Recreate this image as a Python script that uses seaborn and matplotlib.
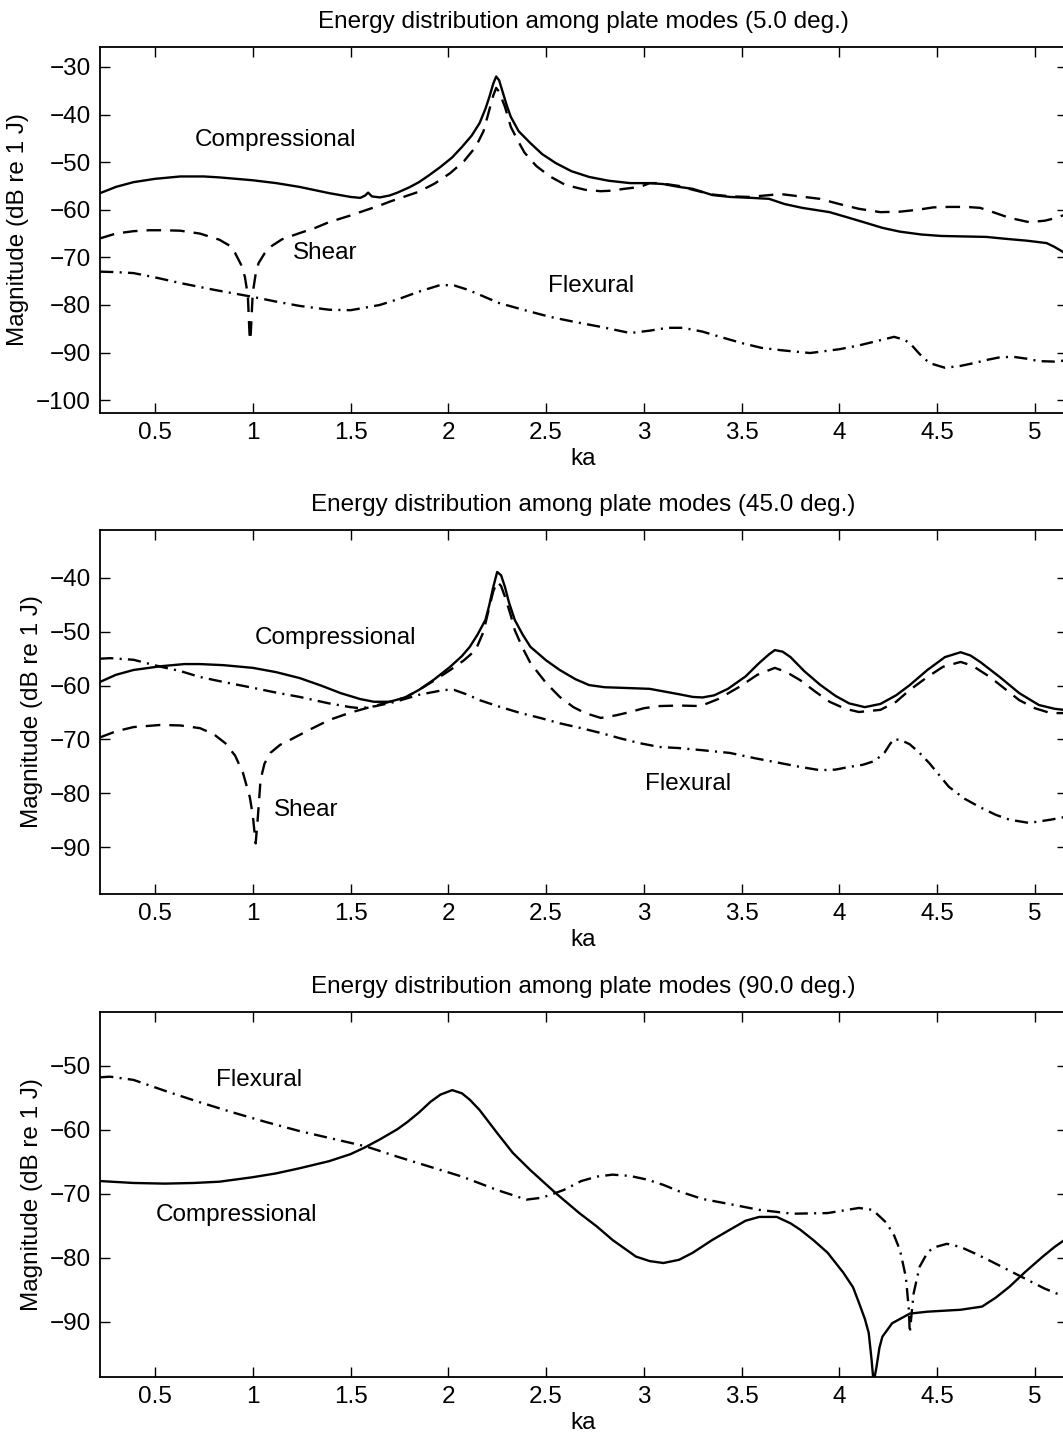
import numpy as np
import pandas as pd
import matplotlib
matplotlib.use("Agg")
import matplotlib.pyplot as plt
import seaborn as sns

# ---------------- data ----------------
# Panel 1: 5.0 deg
p1_comp_ka = [0.22, 0.30, 0.39, 0.50, 0.63, 0.75, 0.83, 1.00, 1.12, 1.24, 1.39, 1.50, 1.55, 1.575, 1.59, 1.61,
              1.65, 1.70, 1.74, 1.80, 1.85, 1.90, 1.96, 2.02, 2.07, 2.12, 2.16, 2.19, 2.21, 2.23, 2.245, 2.26,
              2.28, 2.30, 2.32, 2.36, 2.42, 2.48, 2.55, 2.63, 2.72, 2.82, 2.93, 3.03, 3.10, 3.18, 3.25, 3.35,
              3.44, 3.55, 3.64, 3.72, 3.81, 3.95, 4.05, 4.14, 4.22, 4.31, 4.42, 4.52, 4.63, 4.75, 4.85, 4.96,
              5.06, 5.10, 5.17]
p1_comp_db = [-56.5, -55.2, -54.2, -53.5, -53.0, -53.0, -53.2, -53.8, -54.4, -55.2, -56.5, -57.3, -57.5, -57.0, -56.4, -57.2,
              -57.4, -57.0, -56.4, -55.3, -54.2, -52.8, -51.0, -49.0, -46.8, -44.4, -41.8, -38.8, -36.3, -33.5, -32.0, -32.8,
              -35.5, -38.2, -40.5, -43.5, -46.0, -48.3, -50.2, -51.9, -53.1, -53.9, -54.4, -54.4, -54.6, -55.2, -55.6, -56.9,
              -57.3, -57.5, -57.7, -58.8, -59.6, -60.5, -61.7, -62.8, -63.8, -64.6, -65.2, -65.5, -65.6, -65.7, -66.1, -66.5,
              -67.0, -67.8, -69.5]
p1_shear_ka = [0.22, 0.30, 0.39, 0.47, 0.55, 0.63, 0.73, 0.83, 0.88, 0.91, 0.94, 0.96, 0.975, 0.985, 0.99, 1.00,
               1.015, 1.03, 1.06, 1.09, 1.15, 1.24, 1.32, 1.39, 1.50, 1.57, 1.65, 1.70, 1.75, 1.85, 1.93, 2.01,
               2.08, 2.14, 2.18, 2.21, 2.23, 2.245, 2.26, 2.29, 2.32, 2.36, 2.39, 2.45, 2.52, 2.60, 2.70, 2.78,
               2.83, 2.90, 2.98, 3.03, 3.08, 3.18, 3.25, 3.35, 3.45, 3.54, 3.62, 3.70, 3.80, 3.90, 4.00, 4.10,
               4.21, 4.31, 4.40, 4.48, 4.56, 4.65, 4.72, 4.80, 4.87, 4.97, 5.05, 5.10, 5.17]
p1_shear_db = [-66.0, -65.0, -64.5, -64.3, -64.3, -64.4, -65.0, -66.3, -67.5, -69.1, -71.5, -74.1, -78.0, -87.4, -86.0, -77.5,
               -73.5, -71.2, -69.2, -67.8, -66.2, -64.9, -63.8, -62.6, -61.2, -60.2, -59.1, -58.3, -57.6, -56.2, -54.5, -52.3,
               -49.8, -46.8, -43.5, -39.0, -36.0, -34.4, -35.2, -38.4, -42.6, -45.8, -48.0, -50.8, -53.0, -54.8, -55.8, -56.1,
               -56.0, -55.6, -55.2, -54.4, -54.4, -55.0, -55.8, -56.8, -57.2, -57.3, -57.0, -56.7, -57.2, -57.7, -58.8, -59.8,
               -60.5, -60.4, -60.0, -59.5, -59.4, -59.4, -59.6, -60.7, -61.7, -62.6, -62.3, -61.8, -60.8]
p1_flex_ka = [0.22, 0.30, 0.39, 0.50, 0.63, 0.80, 1.00, 1.12, 1.24, 1.39, 1.50, 1.57, 1.65, 1.75, 1.85, 1.96,
              2.03, 2.10, 2.26, 2.40, 2.52, 2.65, 2.78, 2.93, 3.03, 3.12, 3.20, 3.30, 3.39, 3.50, 3.60, 3.70,
              3.85, 4.00, 4.10, 4.21, 4.28, 4.33, 4.36, 4.41, 4.46, 4.54, 4.62, 4.69, 4.76, 4.82, 4.89, 4.96,
              5.02, 5.10, 5.17]
p1_flex_db = [-73.0, -73.1, -73.3, -74.2, -75.4, -76.8, -78.3, -79.3, -80.2, -81.0, -81.1, -80.6, -80.0, -78.7, -77.2, -75.8,
              -75.9, -76.8, -79.6, -81.2, -82.5, -83.6, -84.6, -85.9, -85.4, -84.8, -84.8, -85.6, -86.7, -88.0, -89.0, -89.5,
              -90.1, -89.3, -88.5, -87.4, -86.7, -87.3, -88.0, -90.3, -92.2, -93.2, -92.8, -92.2, -91.5, -91.0, -90.9, -91.3,
              -91.8, -91.9, -91.6]

# Panel 2: 45.0 deg
p2_comp_ka = [0.22, 0.30, 0.39, 0.53, 0.65, 0.73, 0.85, 1.00, 1.12, 1.24, 1.35, 1.45, 1.55, 1.62, 1.70, 1.78,
              1.85, 1.93, 2.01, 2.07, 2.11, 2.15, 2.19, 2.21, 2.23, 2.25, 2.27, 2.29, 2.31, 2.34, 2.38, 2.42,
              2.50, 2.57, 2.65, 2.72, 2.80, 2.88, 3.03, 3.12, 3.18, 3.25, 3.30, 3.36, 3.43, 3.52, 3.59, 3.64,
              3.67, 3.71, 3.75, 3.82, 3.90, 3.98, 4.05, 4.13, 4.21, 4.29, 4.36, 4.45, 4.54, 4.62, 4.67, 4.72,
              4.82, 4.92, 5.02, 5.10, 5.17]
p2_comp_db = [-59.3, -58.0, -57.1, -56.4, -56.0, -56.0, -56.2, -56.7, -57.5, -58.6, -60.0, -61.4, -62.5, -63.0, -63.0, -62.2,
              -60.8, -58.8, -56.5, -54.5, -52.8, -50.5, -47.8, -45.0, -41.7, -38.9, -39.5, -41.7, -44.5, -47.8, -50.5, -52.8,
              -55.3, -57.1, -58.8, -59.9, -60.3, -60.4, -60.6, -61.2, -61.6, -62.1, -62.2, -61.8, -60.6, -58.3, -55.8, -54.2,
              -53.4, -53.7, -54.7, -57.3, -59.8, -61.9, -63.3, -64.0, -63.4, -61.8, -59.9, -57.1, -54.7, -53.8, -54.4, -55.6,
              -58.4, -61.4, -63.6, -64.3, -64.6]
p2_shear_ka = [0.22, 0.30, 0.39, 0.53, 0.63, 0.73, 0.80, 0.86, 0.91, 0.95, 0.985, 1.00, 1.015, 1.025, 1.04, 1.06,
               1.09, 1.14, 1.19, 1.29, 1.39, 1.50, 1.60, 1.70, 1.78, 1.85, 1.93, 2.01, 2.08, 2.14, 2.18, 2.21,
               2.23, 2.25, 2.27, 2.29, 2.32, 2.34, 2.38, 2.42, 2.50, 2.57, 2.64, 2.70, 2.78, 2.86, 2.93, 3.00,
               3.08, 3.18, 3.29, 3.38, 3.49, 3.58, 3.67, 3.73, 3.80, 3.88, 3.95, 4.03, 4.10, 4.21, 4.29, 4.36,
               4.45, 4.53, 4.62, 4.68, 4.77, 4.85, 4.92, 5.00, 5.08, 5.17]
p2_shear_db = [-69.6, -68.5, -67.7, -67.3, -67.4, -67.9, -69.0, -70.7, -73.0, -76.2, -80.7, -84.0, -89.3, -85.0, -77.5, -74.5,
               -72.5, -71.0, -70.1, -68.2, -66.4, -65.0, -64.0, -63.0, -62.2, -60.8, -59.0, -57.1, -55.3, -53.4, -50.0, -45.4,
               -42.5, -40.7, -41.5, -43.5, -47.0, -49.7, -53.0, -55.8, -59.5, -62.1, -64.0, -65.1, -66.0, -65.5, -64.9, -64.2,
               -63.8, -63.7, -63.8, -62.5, -60.2, -58.0, -56.7, -57.5, -59.0, -61.2, -63.0, -64.3, -64.9, -64.5, -63.0, -60.8,
               -58.4, -56.5, -55.6, -56.3, -58.4, -60.7, -62.7, -64.2, -65.1, -65.1]
p2_flex_ka = [0.22, 0.27, 0.39, 0.53, 0.63, 0.73, 0.86, 1.00, 1.12, 1.24, 1.39, 1.50, 1.55, 1.63, 1.73, 1.85,
              1.98, 2.03, 2.10, 2.16, 2.26, 2.37, 2.47, 2.57, 2.68, 2.78, 2.88, 2.98, 3.08, 3.18, 3.30, 3.44,
              3.57, 3.70, 3.80, 3.90, 3.98, 4.05, 4.12, 4.18, 4.23, 4.26, 4.28, 4.32, 4.36, 4.41, 4.46, 4.51,
              4.56, 4.64, 4.72, 4.80, 4.87, 4.97, 5.08, 5.17]
p2_flex_db = [-55.0, -54.9, -55.2, -56.5, -57.3, -58.4, -59.4, -60.4, -61.3, -62.1, -63.3, -64.0, -64.2, -63.8, -63.0, -61.7,
              -60.8, -60.8, -61.7, -62.7, -63.9, -65.1, -66.0, -67.0, -67.9, -68.8, -69.8, -70.7, -71.4, -71.6, -72.0, -72.5,
              -73.5, -74.4, -75.1, -75.7, -75.6, -75.1, -74.7, -74.0, -72.5, -70.8, -69.9, -70.2, -70.9, -72.5, -74.4, -76.6,
              -78.8, -81.0, -82.6, -84.0, -84.9, -85.5, -84.9, -84.3]

# Panel 3: 90.0 deg
p3_comp_ka = [0.22, 0.39, 0.55, 0.70, 0.83, 1.00, 1.12, 1.24, 1.39, 1.50, 1.57, 1.65, 1.74, 1.79, 1.85, 1.91,
              1.96, 2.02, 2.07, 2.11, 2.16, 2.25, 2.33, 2.42, 2.55, 2.67, 2.76, 2.84, 2.96, 3.03, 3.10, 3.18,
              3.25, 3.35, 3.44, 3.52, 3.59, 3.68, 3.75, 3.80, 3.87, 3.94, 4.02, 4.07, 4.10, 4.13, 4.15, 4.165,
              4.175, 4.19, 4.205, 4.22, 4.27, 4.36, 4.45, 4.62, 4.73, 4.80, 4.87, 4.95, 5.04, 5.10, 5.17]
p3_comp_db = [-68.0, -68.3, -68.4, -68.3, -68.1, -67.4, -66.8, -66.0, -64.9, -63.8, -62.8, -61.5, -59.9, -58.8, -57.3, -55.6,
              -54.5, -53.8, -54.3, -55.3, -56.9, -60.5, -63.6, -66.3, -69.9, -73.0, -75.1, -77.2, -79.8, -80.5, -80.8, -80.3,
              -79.2, -77.2, -75.6, -74.2, -73.6, -73.6, -74.6, -75.6, -77.3, -79.2, -82.3, -84.6, -87.0, -89.5, -91.7, -96.0,
              -99.5, -97.0, -94.0, -92.3, -90.2, -88.7, -88.4, -88.1, -87.6, -86.2, -84.5, -82.2, -79.8, -78.3, -76.8]
p3_flex_ka = [0.22, 0.27, 0.39, 0.56, 0.73, 0.90, 1.07, 1.24, 1.41, 1.58, 1.74, 1.91, 2.07, 2.25, 2.40, 2.48,
              2.59, 2.68, 2.76, 2.84, 2.93, 3.02, 3.10, 3.18, 3.30, 3.44, 3.59, 3.76, 3.94, 4.10, 4.17, 4.24,
              4.28, 4.31, 4.34, 4.355, 4.36, 4.37, 4.38, 4.41, 4.45, 4.48, 4.55, 4.62, 4.70, 4.78, 4.87, 4.96,
              5.05, 5.17]
p3_flex_db = [-51.8, -51.7, -52.2, -54.0, -55.7, -57.3, -58.8, -60.2, -61.4, -62.6, -64.2, -65.8, -67.3, -69.4, -70.9, -70.6,
              -69.4, -68.0, -67.3, -67.0, -67.2, -67.8, -68.6, -69.6, -70.8, -71.6, -72.5, -73.1, -73.0, -72.2, -72.5, -74.5,
              -76.5, -78.8, -83.0, -88.0, -91.7, -88.5, -85.5, -81.4, -79.2, -78.4, -77.8, -78.3, -79.4, -80.6, -82.0, -83.4,
              -84.8, -86.3]

angles = ["5.0", "45.0", "90.0"]
xticks = [0.5, 1, 1.5, 2, 2.5, 3, 3.5, 4, 4.5, 5]
xtick_labels = ["0.5", "1", "1.5", "2", "2.5", "3", "3.5", "4", "4.5", "5"]
yticks = [list(range(-100, -29, 10)), list(range(-90, -39, 10)), list(range(-90, -49, 10))]
ylims = [(-102.7, -25.8), (-98.7, -31.1), (-98.6, -41.6)]
xlim = (0.219, 5.164)

# annotation labels: (text, ka, dB)
labels = [
    [("Compressional", 0.704, -45.3), ("Shear", 1.206, -69.1), ("Flexural", 2.509, -76.0)],
    [("Compressional", 1.011, -51.2), ("Shear", 1.108, -83.1), ("Flexural", 3.005, -78.3)],
    [("Compressional", 0.505, -73.3), ("Flexural", 0.812, -52.2)],
]

panels = [
    {"Compressional": (p1_comp_ka, p1_comp_db), "Shear": (p1_shear_ka, p1_shear_db), "Flexural": (p1_flex_ka, p1_flex_db)},
    {"Compressional": (p2_comp_ka, p2_comp_db), "Shear": (p2_shear_ka, p2_shear_db), "Flexural": (p2_flex_ka, p2_flex_db)},
    {"Compressional": (p3_comp_ka, p3_comp_db), "Flexural": (p3_flex_ka, p3_flex_db)},
]

# ---------------- style ----------------
sns.set_theme(style="ticks")
plt.rcParams["font.family"] = ["Liberation Sans", "DejaVu Sans"]
plt.rcParams["lines.scale_dashes"] = False
plt.rcParams["text.color"] = "black"
plt.rcParams["axes.labelcolor"] = "black"
plt.rcParams["axes.edgecolor"] = "black"
plt.rcParams["xtick.color"] = "black"
plt.rcParams["ytick.color"] = "black"
FS = 17.5

dash_map = {"Compressional": "", "Shear": (10.5, 6.5), "Flexural": (9.5, 4.5, 1.5, 4.5)}

W, H = 1063, 1441
fig = plt.figure(figsize=(W / 100, H / 100), dpi=100)
fig.patch.set_facecolor("white")

left_px, right_px = 100, 1067
boxes = [(47, 413), (530, 894), (1012, 1377)]

for i, (top_px, bot_px) in enumerate(boxes):
    ax = fig.add_axes([left_px / W, 1 - bot_px / H, (right_px - left_px) / W, (bot_px - top_px) / H])
    ax.set_facecolor("white")
    frames = []
    for mode, (xs, ys) in panels[i].items():
        frames.append(pd.DataFrame({"ka": xs, "dB": ys, "mode": mode}))
    df = pd.concat(frames, ignore_index=True)
    order = list(panels[i].keys())
    sns.lineplot(data=df, x="ka", y="dB", style="mode", style_order=order,
                 dashes={m: dash_map[m] for m in order}, color="black",
                 linewidth=1.7, estimator=None, sort=True, legend=False, ax=ax)
    ax.set_xlim(*xlim)
    ax.set_ylim(*ylims[i])
    ax.set_xticks(xticks)
    ax.set_xticklabels(xtick_labels)
    ax.set_yticks(yticks[i])
    ax.tick_params(direction="in", length=7.5, width=1.0, top=True, right=True,
                   labelsize=FS, pad=6.5, colors="black", labelcolor="black")
    for s in ax.spines.values():
        s.set_visible(True)
        s.set_linewidth(1.3)
        s.set_color("black")
    ax.set_xlabel("ka", fontsize=FS, labelpad=3, color="black")
    ax.set_ylabel("Magnitude (dB re 1 J)", fontsize=FS, labelpad=5, color="black")
    ax.set_title(f"Energy distribution among plate modes ({angles[i]} deg.)", fontsize=FS, pad=14, color="black")
    ax.grid(False)
    for txt, xk, yv in labels[i]:
        ax.text(xk, yv, txt, fontsize=FS, ha="left", va="center", color="black")

fig.savefig("out.png", dpi=100, facecolor="white")
